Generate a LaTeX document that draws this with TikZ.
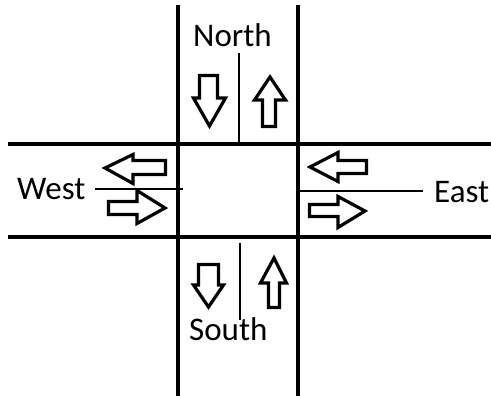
\documentclass[tikz,border=0pt]{standalone}
\usepackage{fontspec}
\setmainfont{Carlito}
\begin{document}
\begin{tikzpicture}[x=1pt,y=-1pt,
  road/.style={line width=3.6pt},
  divider/.style={line width=1.6pt},
  lanearrow/.style={line width=3.2pt, line join=miter, fill=white},
  label/.style={anchor=base west, inner sep=0pt, font=\fontsize{33}{38}\selectfont}]
\useasboundingbox (0,0) rectangle (491,396);
% road edges
\draw[road] (178,5) -- (178,396);
\draw[road] (298,5) -- (298,396);
\draw[road] (8,144) -- (491,144);
\draw[road] (8,237) -- (491,237);
% lane dividers
\draw[divider] (239,53) -- (239,144);
\draw[divider] (240,243) -- (240,320);
\draw[divider] (95,189) -- (183,189);
\draw[divider] (298,191) -- (423,191);
% north approach
\draw[lanearrow] (199.5,75.5) -- (217.5,75.5) -- (217.5,98) -- (225.5,98) -- (209.5,126)
  -- (193.5,98) -- (199.5,98) -- cycle;
\draw[lanearrow] (270,77) -- (285.5,100) -- (275.5,100) -- (275.5,126.5) -- (262.5,126.5)
  -- (262.5,100) -- (254.5,100) -- cycle;
% south approach
\draw[lanearrow] (198.5,264.5) -- (218.5,264.5) -- (218.5,285) -- (223.5,285) -- (208.5,307)
  -- (193.5,285) -- (198.5,285) -- cycle;
\draw[lanearrow] (274,258) -- (286.5,283) -- (279.5,283) -- (279.5,307.5) -- (268.5,307.5)
  -- (268.5,283) -- (260.5,283) -- cycle;
% west approach
\draw[lanearrow] (105,168) -- (133,154.5) -- (133,160.5) -- (165.5,160.5) -- (165.5,174.5)
  -- (133,174.5) -- (133,183.5) -- cycle;
\draw[lanearrow] (108.5,201.5) -- (137,201.5) -- (137,190.5) -- (165,208) -- (137,223.5)
  -- (137,214.5) -- (108.5,214.5) -- cycle;
% east approach
\draw[lanearrow] (310,167) -- (338,152.5) -- (338,160.5) -- (366.5,160.5) -- (366.5,173.5)
  -- (338,173.5) -- (338,181.5) -- cycle;
\draw[lanearrow] (309.5,204.5) -- (338,204.5) -- (338,196.5) -- (365,211) -- (338,227.5)
  -- (338,216.5) -- (309.5,216.5) -- cycle;
% labels
\node[label] (north) at (193,47) {North};
\node[label] (south) at (189,341) {South};
\node[label] (west) at (17,200) {West};
\node[label] (east) at (434,203) {East};
\end{tikzpicture}
\end{document}
